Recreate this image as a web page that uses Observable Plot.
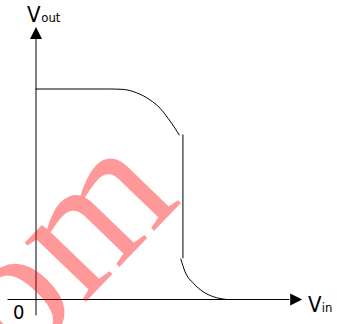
<!DOCTYPE html>
<html>
<head>
<meta charset="utf-8">
<script src="https://cdn.jsdelivr.net/npm/d3@7"></script>
<script src="https://cdn.jsdelivr.net/npm/@observablehq/plot@0.6"></script>
<style>
  html, body { margin: 0; padding: 0; background: white; }
  svg { display: block; }
</style>
</head>
<body>
<div id="chart"></div>
<script>
// Inverter voltage transfer characteristic (Vout vs Vin), VDD = 5
const upperVin  = [0, 1.76, 2.07, 2.39, 2.71, 2.95, 3.14, 3.30, 3.40];
const upperVout = [5, 5, 4.99, 4.91, 4.74, 4.54, 4.30, 4.07, 3.91];
const jumpVin   = [3.49, 3.49];
const jumpVout  = [3.91, 0.99];
const lowerVin  = [3.44, 3.54, 3.74, 3.97, 4.21, 4.53];
const lowerVout = [0.96, 0.66, 0.385, 0.185, 0.067, 0];

const yAxisLabel = ["V", "out"];
const xAxisLabel = ["V", "in"];
const originLabel = "0";
const watermark = "om";

const upper = upperVin.map((x, i) => ({x, y: upperVout[i]}));
const jump  = jumpVin.map((x, i) => ({x, y: jumpVout[i]}));
const lower = lowerVin.map((x, i) => ({x, y: lowerVout[i]}));

const W = 345, H = 324;
const k = 42.1;            // px per volt
const ox = 35.5, oy = 299; // origin position in px
const font = "'DejaVu Sans Condensed', 'DejaVu Sans', sans-serif";

const tri = {
  draw(ctx, size) {
    const r = Math.sqrt(size / Math.PI);
    ctx.moveTo(0, -r);
    ctx.lineTo(r, r);
    ctx.lineTo(-r, r);
    ctx.closePath();
  }
};

const chart = Plot.plot({
  width: W,
  height: H,
  margin: 0,
  style: {background: "white"},
  x: {domain: [-ox / k, (W - ox) / k], axis: null},
  y: {domain: [(oy - H) / k, oy / k], axis: null},
  marks: [
    // axes
    Plot.ruleX([0], {y1: -0.39, y2: 6.19, stroke: "black", strokeWidth: 1}),
    Plot.ruleY([0], {x1: -0.665, x2: 6.03, stroke: "black", strokeWidth: 1}),
    Plot.dot([0], {x: 0, y: 6.33, symbol: tri, r: 6, fill: "black", stroke: null}),
    Plot.dot([0], {x: 6.18, y: 0, symbol: tri, r: 6, rotate: 90, fill: "black", stroke: null}),
    // curve
    Plot.line(upper, {x: "x", y: "y", curve: "monotone-x", stroke: "black", strokeWidth: 1}),
    Plot.line(jump, {x: "x", y: "y", stroke: "black", strokeWidth: 1}),
    Plot.line(lower, {x: "x", y: "y", curve: "monotone-x", stroke: "black", strokeWidth: 1}),
    // labels
    Plot.text([yAxisLabel[0]], {x: -0.214, y: 6.59, text: d => d, textAnchor: "start", lineAnchor: "bottom", fontSize: 22, fontFamily: font, fill: "black"}),
    Plot.text([yAxisLabel[1]], {x: 0.126, y: 6.59, text: d => d, textAnchor: "start", lineAnchor: "bottom", fontSize: 13, fontFamily: font, fill: "black"}),
    Plot.text([xAxisLabel[0]], {x: 6.46, y: -0.29, text: d => d, textAnchor: "start", lineAnchor: "bottom", fontSize: 22, fontFamily: font, fill: "black"}),
    Plot.text([xAxisLabel[1]], {x: 6.79, y: -0.29, text: d => d, textAnchor: "start", lineAnchor: "bottom", fontSize: 13, fontFamily: font, fill: "black"}),
    Plot.text([originLabel], {x: -0.546, y: -0.463, text: d => d, textAnchor: "start", lineAnchor: "bottom", fontSize: 20, fontFamily: font, fill: "black"}),
    // watermark
    Plot.text([watermark], {x: -0.41, y: -1.70, text: d => d, textAnchor: "start", lineAnchor: "bottom", rotate: -46, fontSize: 185, fontFamily: "'Liberation Serif', serif", fill: "red", fillOpacity: 0.4})
  ]
});

document.getElementById("chart").appendChild(chart);
</script>
</body>
</html>
